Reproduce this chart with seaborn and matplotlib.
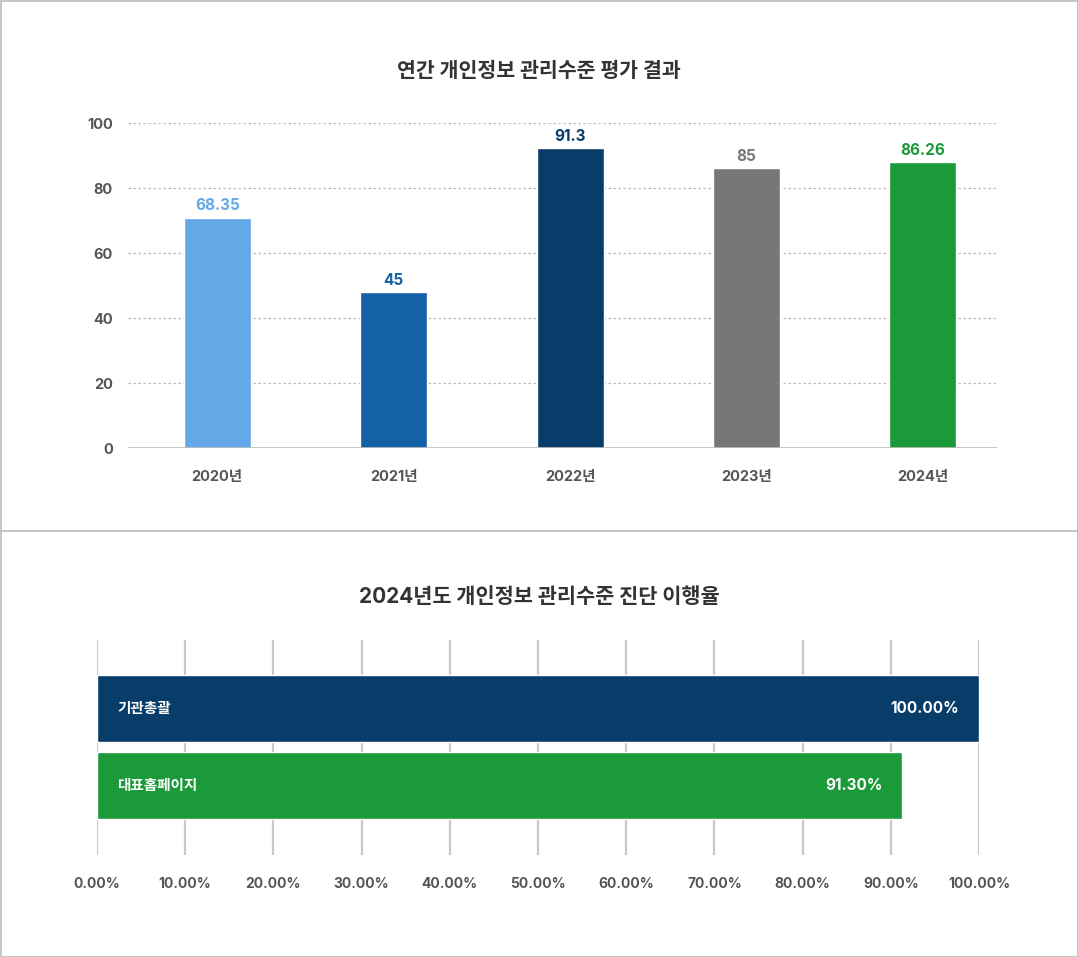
import matplotlib
matplotlib.use("Agg")
import matplotlib.pyplot as plt
import seaborn as sns
import pandas as pd
from matplotlib.lines import Line2D

# ---- data ----
years = ["2020년", "2021년", "2022년", "2023년", "2024년"]
bar_heights = [70.9, 48.1, 92.4, 86.2, 88.1]
score_labels = ["68.35", "45", "91.3", "85", "86.26"]
year_colors = ["#64a8e8", "#1461a8", "#083c69", "#777777", "#1a9a38"]
y_ticks = [0, 20, 40, 60, 80, 100]

items = ["기관총괄", "대표홈페이지"]
rates = [100.0, 91.3]
rate_labels = ["100.00%", "91.30%"]
item_colors = ["#083c69", "#1a9a38"]
x_ticks = [0, 10, 20, 30, 40, 50, 60, 70, 80, 90, 100]

title_top = "연간 개인정보 관리수준 평가 결과"
title_bottom = "2024년도 개인정보 관리수준 진단 이행율"

sns.set_theme(style="white")
FONT = ["Inter", "Noto Sans CJK KR", "DejaVu Sans"]
plt.rcParams["font.family"] = FONT

W, H = 1078, 957
fig = plt.figure(figsize=(W / 100, H / 100), dpi=100)
fig.patch.set_facecolor("white")

# frame lines
border = "#bbbbbb"
for (x0, y0, x1, y1) in [(0.5, 0.5, W - 0.5, 0.5), (0.5, H - 0.5, W - 0.5, H - 0.5),
                         (0.5, 0.5, 0.5, H - 0.5), (W - 0.5, 0.5, W - 0.5, H - 0.5),
                         (0, 531, W, 531)]:
    fig.add_artist(Line2D([x0 / W, x1 / W], [1 - y0 / H, 1 - y1 / H],
                          transform=fig.transFigure, color=border, lw=1.2))

# ---- top chart ----
ax1 = fig.add_axes([128 / W, 1 - 448 / H, 869 / W, 325 / H])
df1 = pd.DataFrame({"year": years, "h": bar_heights})
sns.barplot(data=df1, x="year", y="h", hue="year", palette=year_colors,
            width=0.38, legend=False, ax=ax1, saturation=1)
ax1.set_xlim(-0.506, 4.42)
ax1.set_ylim(0, 100)
ax1.set_yticks(y_ticks)
ax1.set_xlabel("")
ax1.set_ylabel("")
for s in ax1.spines.values():
    s.set_visible(False)
for v in y_ticks[1:]:
    ax1.axhline(v, color="#bbbbbb", lw=0.9, ls=(0, (2, 2)), zorder=0)
ax1.axhline(0, color="#bbbbbb", lw=1.2, zorder=3)
ax1.tick_params(axis="both", length=0)
ax1.tick_params(axis="y", pad=11, labelsize=10.5, labelcolor="#555555")
ax1.tick_params(axis="x", pad=16, labelsize=10.5, labelcolor="#555555")
for lab in ax1.get_xticklabels() + ax1.get_yticklabels():
    lab.set_fontweight("bold")
    lab.set_family(FONT)
for i, (h, t, c) in enumerate(zip(bar_heights, score_labels, year_colors)):
    ax1.annotate(t, (i, h), xytext=(0, 3), textcoords="offset points",
                 ha="center", va="bottom", color=c, fontsize=11,
                 fontweight="bold", family=FONT)

fig.text(539 / W, 1 - 71 / H, title_top, ha="center", va="center",
         fontsize=14.8, fontweight="bold", color="#333333", family=FONT)

# ---- bottom chart ----
ax2 = fig.add_axes([97 / W, 1 - 855 / H, 882 / W, 215 / H])
df2 = pd.DataFrame({"item": items, "rate": rates})
sns.barplot(data=df2, x="rate", y="item", hue="item", palette=item_colors,
            orient="h", width=0.87, legend=False, ax=ax2, saturation=1)
ax2.set_xlim(0, 100)
ax2.set_ylim(1.90, -0.89)
ax2.set_xticks(x_ticks)
ax2.set_xticklabels([f"{v:.2f}%" for v in x_ticks])
ax2.set_yticks([])
ax2.set_xlabel("")
ax2.set_ylabel("")
for s in ax2.spines.values():
    s.set_visible(False)
for v in x_ticks:
    ax2.axvline(v, color="#c8c8c8", lw=1.6, zorder=0)
ax2.tick_params(axis="both", length=0)
ax2.tick_params(axis="x", pad=16, labelsize=10, labelcolor="#555555")
for lab in ax2.get_xticklabels():
    lab.set_fontweight("bold")
    lab.set_family(FONT)
for i, (r, name, t) in enumerate(zip(rates, items, rate_labels)):
    ax2.annotate(name, (0, i), xytext=(20 * 0.72, 0), textcoords="offset points",
                 ha="left", va="center", color="white", fontsize=10.5,
                 fontweight="bold", family=FONT)
    ax2.annotate(t, (r, i), xytext=(-20 * 0.72, 0), textcoords="offset points",
                 ha="right", va="center", color="white", fontsize=11,
                 fontweight="bold", family=FONT)

fig.text(539 / W, 1 - 597 / H, title_bottom, ha="center", va="center",
         fontsize=15, fontweight="bold", color="#333333", family=FONT)

fig.savefig("out.png", dpi=100, facecolor="white")
